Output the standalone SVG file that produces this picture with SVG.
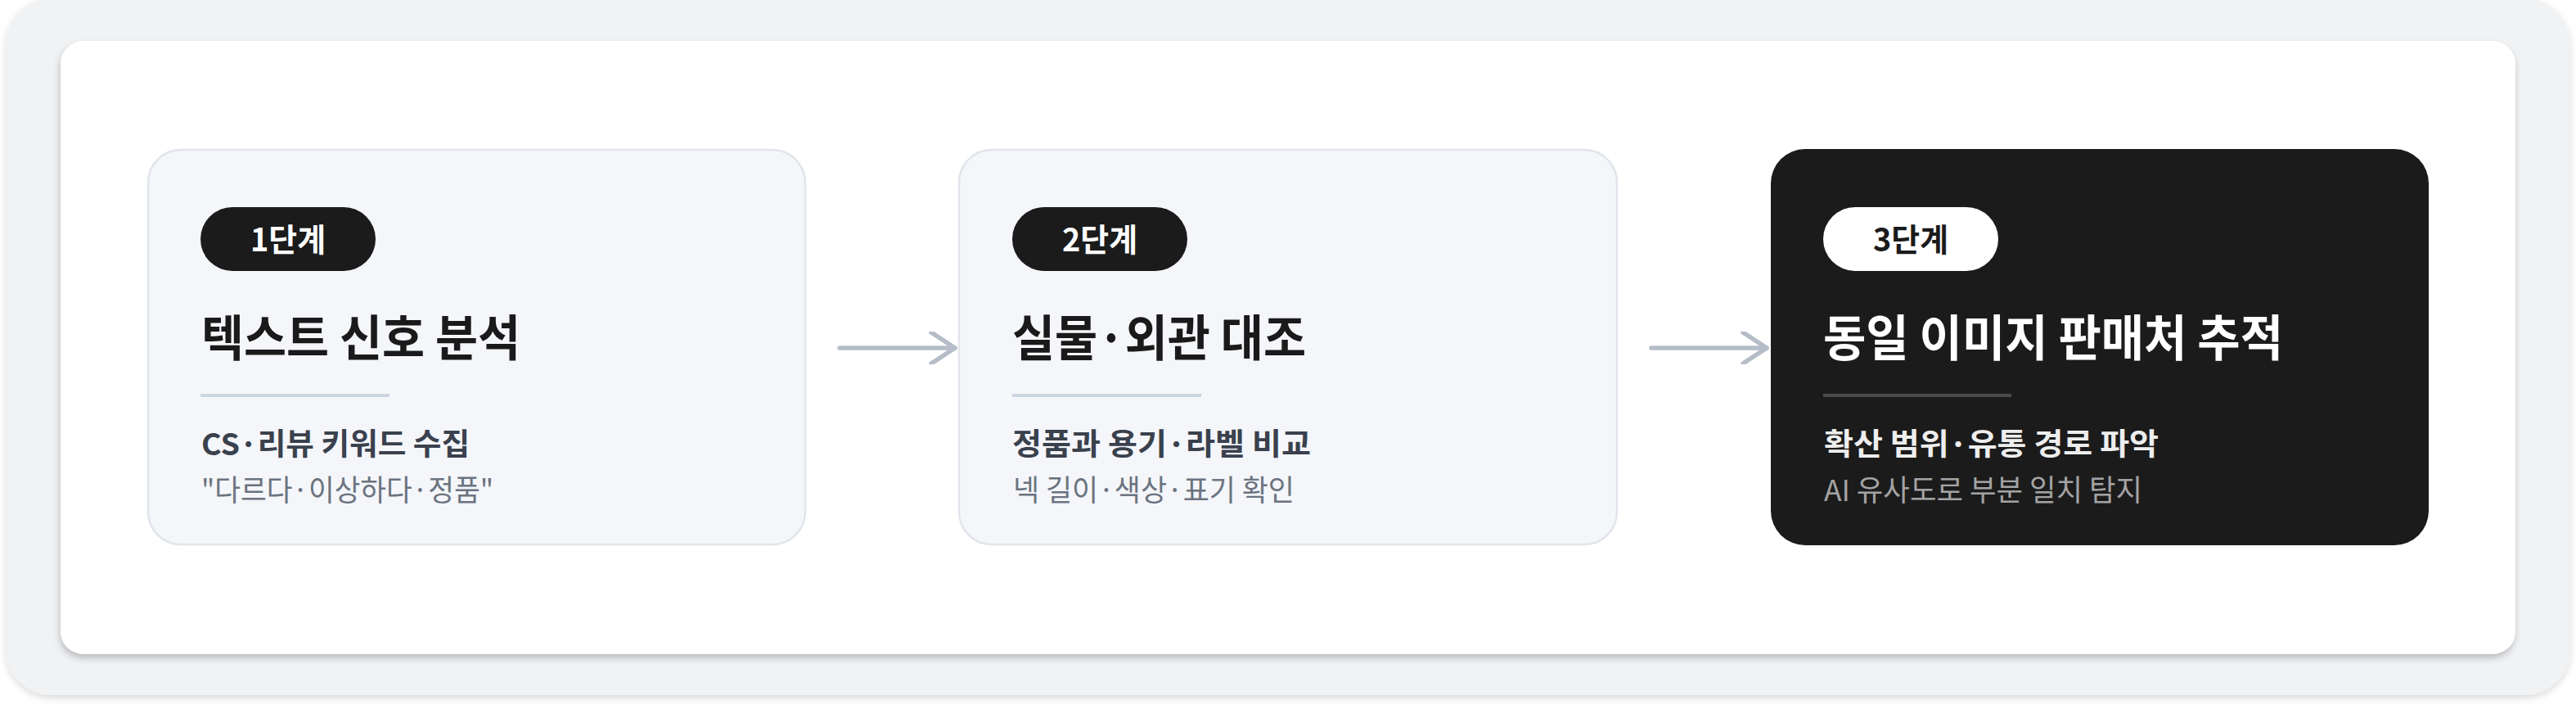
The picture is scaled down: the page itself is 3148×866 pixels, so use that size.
<svg xmlns="http://www.w3.org/2000/svg" width="3148" height="866" viewBox="0 0 3148 866">
  <defs>
    <filter id="shOuter" x="-5%" y="-10%" width="110%" height="125%">
      <feDropShadow dx="0" dy="4" stdDeviation="4" flood-color="#000" flood-opacity="0.14"/>
    </filter>
    <filter id="shInner" x="-5%" y="-10%" width="110%" height="125%">
      <feDropShadow dx="-1" dy="5" stdDeviation="4" flood-color="#000" flood-opacity="0.22"/>
    </filter>
    <marker id="chev" viewBox="0 0 40 40" refX="34" refY="20" markerWidth="40" markerHeight="40" markerUnits="userSpaceOnUse" orient="auto">
      <path d="M5 1 L34 20 L5 39" fill="none" stroke="#b5bdc9" stroke-width="5.5" stroke-linecap="round" stroke-linejoin="round"/>
    </marker>
    <style>
      text { font-family: "Noto Sans CJK KR", "Noto Sans", sans-serif; }
      .card { fill: #f4f6fa; stroke: #e1e5eb; stroke-width: 2.5; }
      .cardDark { fill: #1b1b1b; }
      .badge { fill: #1b1b1b; }
      .badgeLight { fill: #ffffff; }
      .btxt { font-size: 39px; font-weight: 700; fill: #ffffff; }
      .btxtDark { font-size: 39px; font-weight: 700; fill: #1b1b1b; }
      .title { font-size: 60px; font-weight: 700; fill: #1a1a1a; }
      .titleLight { font-size: 60px; font-weight: 700; fill: #ffffff; }
      .div { stroke: #cdd5e0; stroke-width: 4; }
      .divDark { stroke: #4a4a4a; stroke-width: 4; }
      .sub { font-size: 37px; font-weight: 700; fill: #3a414d; }
      .subLight { font-size: 37px; font-weight: 700; fill: #eeeeee; }
      .desc { font-size: 36px; font-weight: 400; fill: #6b7380; }
      .descLight { font-size: 36px; font-weight: 400; fill: #a3a3a3; }
      .conn { stroke: #b5bdc9; stroke-width: 5.5; stroke-linecap: round; fill: none; }
    </style>
  </defs>

  <rect x="0" y="0" width="3148" height="866" fill="#ffffff"/>
  <rect id="frame" x="7" y="-2" width="3134" height="851" rx="56" fill="#f1f2f4" filter="url(#shOuter)"/>
  <rect id="panel" x="74" y="50" width="3000" height="749" rx="28" fill="#ffffff" filter="url(#shInner)"/>

  <g id="step1">
    <rect class="card" x="181" y="183" width="803" height="482" rx="40"/>
    <rect class="badge" x="245" y="253" width="214" height="78" rx="39"/>
    <text class="btxt" x="352" y="307" text-anchor="middle" textLength="92" lengthAdjust="spacingAndGlyphs">1단계</text>
    <text class="title" x="246" y="435" textLength="390" lengthAdjust="spacingAndGlyphs">텍스트 신호 분석</text>
    <line class="div" x1="245" y1="483" x2="476" y2="483"/>
    <text class="sub" x="246" y="556" textLength="328" lengthAdjust="spacingAndGlyphs">CS·리뷰 키워드 수집</text>
    <text class="desc" x="246" y="612" textLength="357" lengthAdjust="spacingAndGlyphs">"다르다·이상하다·정품"</text>
  </g>

  <g id="step2">
    <rect class="card" x="1172" y="183" width="804" height="482" rx="40"/>
    <rect class="badge" x="1237" y="253" width="214" height="78" rx="39"/>
    <text class="btxt" x="1344" y="307" text-anchor="middle" textLength="92" lengthAdjust="spacingAndGlyphs">2단계</text>
    <text class="title" x="1237" y="435" textLength="359" lengthAdjust="spacingAndGlyphs">실물·외관 대조</text>
    <line class="div" x1="1237" y1="483" x2="1468" y2="483"/>
    <text class="sub" x="1237" y="556" textLength="365" lengthAdjust="spacingAndGlyphs">정품과 용기·라벨 비교</text>
    <text class="desc" x="1238" y="612" textLength="344" lengthAdjust="spacingAndGlyphs">넥 길이·색상·표기 확인</text>
  </g>

  <g id="step3">
    <rect class="cardDark" x="2164" y="182" width="804" height="484" rx="42"/>
    <rect class="badgeLight" x="2228" y="253" width="214" height="78" rx="39"/>
    <text class="btxtDark" x="2335" y="307" text-anchor="middle" textLength="92" lengthAdjust="spacingAndGlyphs">3단계</text>
    <text class="titleLight" x="2228" y="435" textLength="562" lengthAdjust="spacingAndGlyphs">동일 이미지 판매처 추적</text>
    <line class="divDark" x1="2228" y1="483" x2="2458" y2="483"/>
    <text class="subLight" x="2229" y="556" textLength="409" lengthAdjust="spacingAndGlyphs">확산 범위·유통 경로 파악</text>
    <text class="descLight" x="2229" y="612" textLength="389" lengthAdjust="spacingAndGlyphs">AI 유사도로 부분 일치 탐지</text>
  </g>

  <g id="connectors">
    <line class="conn" x1="1026" y1="425" x2="1167" y2="425" marker-end="url(#chev)"/>
    <line class="conn" x1="2018" y1="425" x2="2159" y2="425" marker-end="url(#chev)"/>
  </g>
</svg>
